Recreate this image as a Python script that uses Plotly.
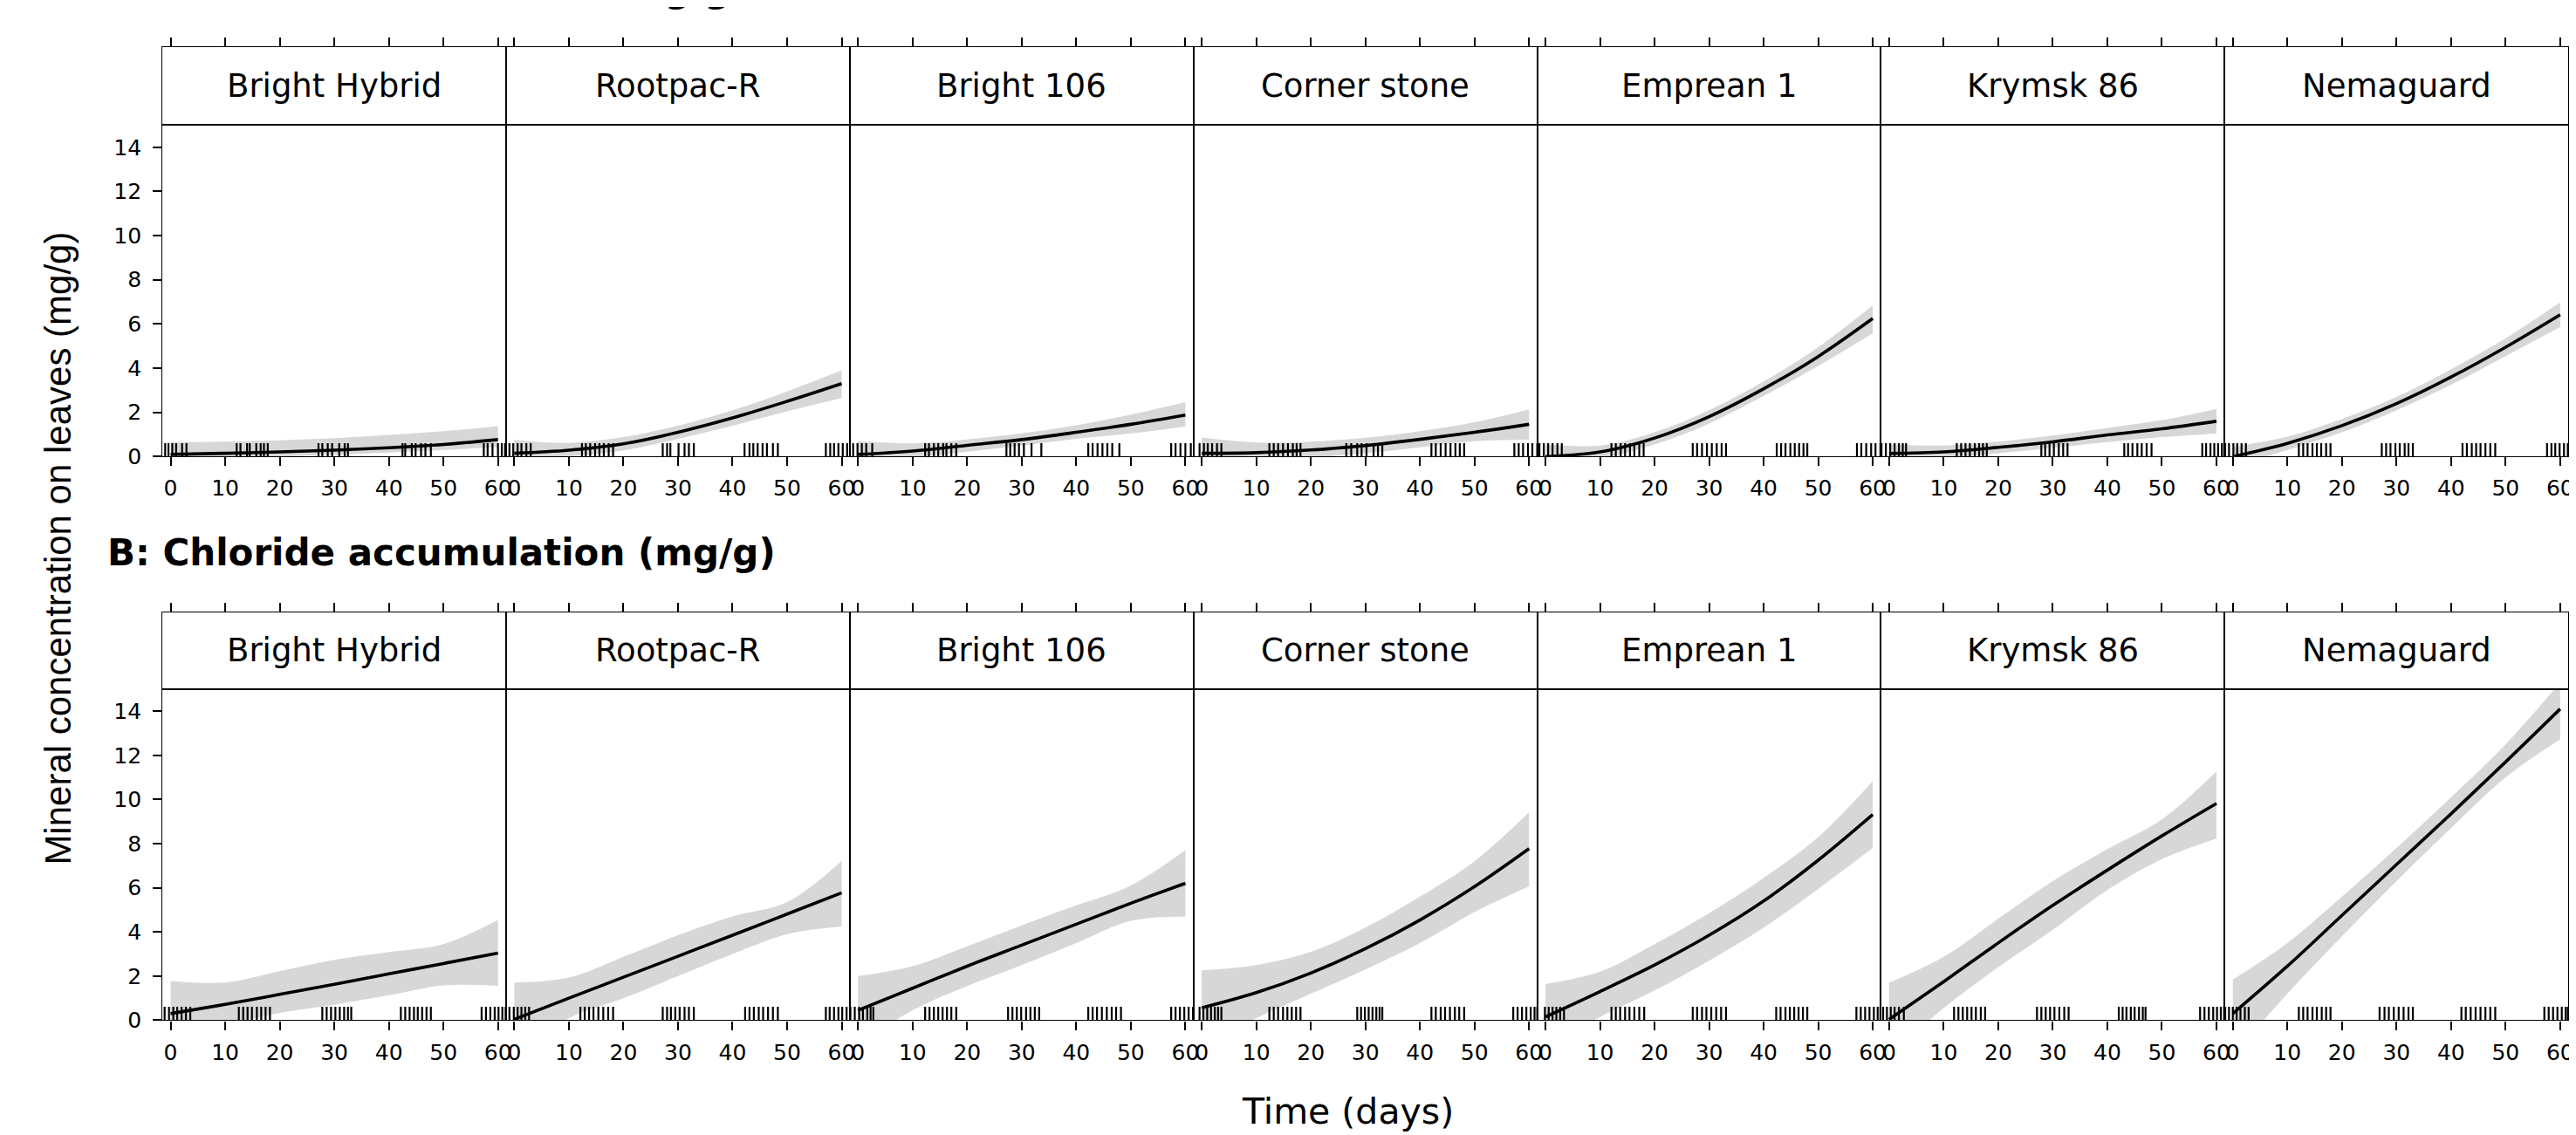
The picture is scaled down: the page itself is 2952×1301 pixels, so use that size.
import plotly.graph_objects as go

W, H = 2952, 1301

# ---------------- data ----------------
rootstocks = ["Bright Hybrid", "Rootpac-R", "Bright 106", "Corner stone",
              "Emprean 1", "Krymsk 86", "Nemaguard"]
section_titles = ["A: Sodium accumulation (mg/g)", "B: Chloride accumulation (mg/g)"]
x_title = "Time (days)"
y_title = "Mineral concentration on leaves (mg/g)"
x_ticks = [0, 10, 20, 30, 40, 50, 60]
y_ticks = [0, 2, 4, 6, 8, 10, 12, 14]
days = [0, 10, 20, 30, 40, 50, 60]

# Sodium (row A): fitted curve and confidence band per rootstock
na_fit = [
    [0.10, 0.15, 0.21, 0.29, 0.40, 0.55, 0.77],
    [0.15, 0.29, 0.58, 1.10, 1.75, 2.50, 3.30],
    [0.10, 0.25, 0.51, 0.77, 1.10, 1.46, 1.88],
    [0.15, 0.18, 0.30, 0.50, 0.78, 1.10, 1.46],
    [0.00, 0.21, 0.84, 1.81, 3.07, 4.53, 6.25],
    [0.14, 0.21, 0.42, 0.67, 0.98, 1.26, 1.60],
    [0.00, 0.60, 1.40, 2.40, 3.60, 4.95, 6.42],
]
na_lower = [
    [-0.20, -0.10, 0.00, 0.08, 0.18, 0.30, 0.43],
    [-0.30, 0.00, 0.28, 0.80, 1.40, 2.05, 2.65],
    [-0.30, -0.05, 0.22, 0.50, 0.80, 1.05, 1.36],
    [-0.50, -0.25, -0.05, 0.15, 0.42, 0.70, 0.77],
    [-0.50, -0.10, 0.55, 1.50, 2.75, 4.10, 5.58],
    [-0.30, -0.10, 0.15, 0.40, 0.66, 0.88, 1.04],
    [-0.45, 0.30, 1.10, 2.10, 3.25, 4.55, 5.86],
]
na_upper = [
    [0.66, 0.68, 0.74, 0.83, 0.98, 1.15, 1.38],
    [0.77, 0.62, 0.88, 1.40, 2.10, 2.95, 3.90],
    [0.71, 0.60, 0.78, 1.05, 1.42, 1.90, 2.46],
    [0.86, 0.64, 0.68, 0.85, 1.15, 1.55, 2.14],
    [0.56, 0.50, 1.10, 2.10, 3.40, 4.95, 6.84],
    [0.56, 0.50, 0.68, 0.95, 1.30, 1.65, 2.16],
    [0.45, 0.90, 1.70, 2.70, 3.95, 5.35, 6.98],
]

# Chloride (row B)
cl_fit = [
    [0.30, 0.72, 1.17, 1.63, 2.10, 2.57, 3.04],
    [0.04, 1.00, 1.95, 2.90, 3.85, 4.81, 5.77],
    [0.45, 1.45, 2.45, 3.40, 4.35, 5.30, 6.20],
    [0.56, 1.25, 2.14, 3.24, 4.54, 6.05, 7.77],
    [0.15, 1.30, 2.50, 3.85, 5.40, 7.25, 9.32],
    [0.04, 1.75, 3.50, 5.20, 6.80, 8.35, 9.82],
    [0.30, 2.45, 4.75, 7.05, 9.35, 11.70, 14.10],
]
cl_lower = [
    [-1.20, -0.27, 0.33, 0.70, 1.13, 1.58, 1.56],
    [-1.60, 0.10, 1.00, 2.00, 3.00, 3.90, 4.25],
    [-1.10, 0.45, 1.55, 2.50, 3.50, 4.50, 4.70],
    [-1.10, 0.10, 1.20, 2.30, 3.50, 4.90, 6.06],
    [-1.20, 0.15, 1.35, 2.70, 4.20, 5.95, 7.80],
    [-1.60, 0.55, 2.40, 4.10, 5.90, 7.30, 8.23],
    [-1.60, 1.20, 3.80, 6.30, 8.70, 11.00, 12.72],
]
cl_upper = [
    [1.78, 1.71, 2.22, 2.73, 3.09, 3.45, 4.54],
    [1.71, 1.93, 2.87, 3.85, 4.70, 5.35, 7.22],
    [2.00, 2.45, 3.35, 4.30, 5.20, 6.10, 7.70],
    [2.26, 2.50, 3.10, 4.20, 5.60, 7.20, 9.42],
    [1.64, 2.20, 3.45, 4.85, 6.45, 8.30, 10.84],
    [1.70, 2.87, 4.60, 6.30, 7.75, 9.10, 11.27],
    [1.85, 3.50, 5.60, 7.80, 10.10, 12.50, 15.30],
]

# Observation days (rug) per rootstock
na_rug = [
    [-1.0, -0.4, 0.3, 1.0, 2.1, 2.9, 12.1, 12.8, 14.0, 14.5, 15.7, 16.5, 17.1, 17.8,
     27.1, 27.8, 28.8, 29.6, 30.9, 31.9, 32.5, 42.5, 43.0, 44.2, 44.9, 45.9, 46.7, 47.7,
     57.4, 58.1, 59.0, 60.0, 60.7, 61.3],
    [-0.9, -0.2, 0.6, 1.3, 2.2, 3.0, 12.4, 13.1, 13.9, 14.8, 15.6, 16.4, 17.3, 18.1,
     27.2, 28.0, 28.6, 30.1, 31.2, 32.0, 32.9, 42.2, 43.1, 43.8, 44.6, 45.5, 46.3, 47.4, 48.3,
     57.1, 57.9, 58.6, 59.4, 60.2, 61.0],
    [-0.9, -0.1, 0.7, 1.5, 2.6, 12.3, 13.0, 13.9, 14.7, 15.6, 16.2, 17.1, 18.0,
     27.2, 27.9, 28.7, 29.5, 30.4, 31.8, 33.6, 42.2, 43.0, 43.9, 44.8, 45.7, 46.6, 47.9,
     57.4, 58.2, 59.1, 60.0, 61.0],
    [-0.4, 0.4, 1.1, 1.9, 2.8, 3.6, 12.4, 13.2, 14.0, 14.9, 15.8, 16.7, 17.4, 18.1,
     26.5, 27.4, 28.5, 29.3, 30.2, 31.5, 32.3, 33.1, 42.1, 42.9, 43.8, 44.7, 45.6, 46.5, 47.3, 48.1,
     57.3, 58.1, 58.9, 59.8, 60.6, 61.5],
    [-1.1, -0.3, 0.5, 1.3, 2.2, 3.0, 12.1, 12.9, 13.8, 14.6, 15.5, 16.3, 17.2, 18.0,
     27.0, 27.8, 28.7, 29.6, 30.5, 31.4, 32.3, 33.1, 42.4, 43.2, 44.0, 44.9, 45.7, 46.5, 47.3, 48.0,
     57.1, 57.9, 58.8, 59.7, 60.5, 61.4],
    [-1.4, -0.6, 0.2, 1.0, 1.8, 2.5, 3.1, 12.4, 13.2, 14.0, 14.8, 15.7, 16.5, 17.2, 17.9,
     27.9, 28.6, 29.4, 30.2, 31.1, 31.9, 32.7, 43.1, 43.8, 44.6, 45.5, 46.3, 47.2, 48.1,
     57.4, 58.1, 58.9, 59.6, 60.3, 61.0],
    [-1.4, -0.7, 0.1, 0.8, 1.6, 2.4, 12.1, 12.9, 13.7, 14.6, 15.4, 16.2, 17.1, 17.9,
     27.3, 28.1, 28.9, 29.8, 30.6, 31.5, 32.2, 33.0, 42.1, 42.9, 43.8, 44.6, 45.4, 46.3, 47.2, 48.1,
     57.6, 58.4, 59.1, 59.9, 60.7, 61.4],
]
cl_rug = [
    [-1.1, -0.3, 0.5, 1.2, 2.0, 2.8, 3.6, 12.5, 13.3, 14.1, 14.9, 15.8, 16.6, 17.4, 18.2,
     27.8, 28.6, 29.4, 30.2, 31.0, 31.8, 32.5, 33.1, 42.2, 43.0, 43.8, 44.6, 45.3, 46.1, 46.9, 47.7,
     57.0, 57.8, 58.6, 59.4, 60.1, 60.8, 61.4],
    [-0.9, -0.1, 0.6, 1.3, 2.0, 2.7, 12.1, 12.9, 13.7, 14.5, 15.4, 16.3, 17.2, 18.1,
     27.2, 28.0, 28.7, 29.5, 30.3, 31.2, 32.0, 32.9, 42.3, 43.1, 43.9, 44.8, 45.6, 46.5, 47.4, 48.3,
     57.1, 57.8, 58.6, 59.4, 60.1, 60.9],
    [-1.4, -0.6, 0.2, 0.9, 1.7, 2.3, 2.8, 12.3, 13.1, 13.9, 14.7, 15.5, 16.3, 17.1, 18.0,
     27.5, 28.3, 29.1, 29.9, 30.8, 31.6, 32.4, 33.2, 42.2, 43.0, 43.8, 44.7, 45.6, 46.5, 47.3, 48.2,
     57.4, 58.2, 59.0, 59.8, 60.6, 61.4],
    [-0.4, 0.3, 1.0, 1.7, 2.4, 3.0, 3.6, 12.4, 13.2, 14.0, 14.9, 15.7, 16.5, 17.3, 18.1,
     28.5, 29.2, 29.9, 30.6, 31.3, 32.0, 32.6, 33.1, 42.1, 42.9, 43.8, 44.6, 45.5, 46.4, 47.2, 48.1,
     57.1, 57.9, 58.7, 59.5, 60.3, 61.0, 61.5],
    [-0.1, 0.6, 1.3, 2.0, 2.7, 3.4, 12.1, 12.9, 13.7, 14.6, 15.4, 16.3, 17.2, 18.1,
     27.0, 27.8, 28.7, 29.5, 30.4, 31.3, 32.2, 33.1, 42.3, 43.1, 44.0, 44.8, 45.6, 46.4, 47.2, 48.0,
     57.0, 57.8, 58.6, 59.4, 60.2, 60.9, 61.4],
    [-1.1, -0.4, 0.3, 1.0, 1.8, 2.7, 11.9, 12.7, 13.5, 14.3, 15.1, 15.9, 16.8, 17.6,
     27.1, 27.9, 28.7, 29.5, 30.3, 31.2, 32.1, 32.9, 42.1, 42.8, 43.5, 44.3, 45.0, 45.8, 46.5, 47.0,
     57.0, 57.8, 58.6, 59.4, 60.1, 60.8, 61.4],
    [-1.4, -0.7, 0.0, 0.7, 1.4, 2.2, 2.9, 12.1, 12.9, 13.7, 14.6, 15.4, 16.3, 17.1, 17.9,
     26.9, 27.8, 28.6, 29.5, 30.4, 31.3, 32.2, 33.0, 41.9, 42.7, 43.6, 44.5, 45.4, 46.3, 47.2, 48.1,
     57.1, 57.9, 58.7, 59.5, 60.3, 61.0, 61.4],
]

# ---------------- layout geometry (pixels) ----------------
PX_LEFT = 178.6
PW = 394.8
ROWS = [dict(strip=(47, 137), panel=(137, 521.4)),
        dict(strip=(702, 791), panel=(791, 1175))]
XRANGE = [-1.5, 61.5]
YRANGE = [0, 15]
BAND = "#d7d7d7"
LW = 1.1
TICKFONT = dict(family="DejaVu Sans", size=25, color="black")


def fx(p):
    return p / W


def fy(p):
    return 1 - p / H


fig = go.Figure()
layout = {}
datasets = [(na_fit, na_lower, na_upper, na_rug), (cl_fit, cl_lower, cl_upper, cl_rug)]

annotations = []
for r, (fits, lows, ups, rugs) in enumerate(datasets):
    for c in range(7):
        i = r * 7 + c + 1
        j = 14 + i
        xa, ya = f"x{i}", f"y{i}"
        sxa, sya = f"x{j}", f"y{j}"
        x0 = fx(PX_LEFT + c * PW)
        x1 = fx(PX_LEFT + (c + 1) * PW)
        ptop, pbot = ROWS[r]["panel"]
        stop, sbot = ROWS[r]["strip"]

        fig.add_trace(go.Scatter(x=days, y=lows[c], mode="lines",
                                 line=dict(width=0, shape="spline", color=BAND),
                                 xaxis=xa, yaxis=ya, showlegend=False, hoverinfo="skip"))
        fig.add_trace(go.Scatter(x=days, y=ups[c], mode="lines", fill="tonexty",
                                 fillcolor=BAND,
                                 line=dict(width=0, shape="spline", color=BAND),
                                 xaxis=xa, yaxis=ya, showlegend=False, hoverinfo="skip"))
        fig.add_trace(go.Scatter(x=rugs[c], y=[0] * len(rugs[c]), mode="markers",
                                 marker=dict(symbol="line-ns", size=22, color="black",
                                             line=dict(color="black", width=2.2)),
                                 xaxis=xa, yaxis=ya, showlegend=False, hoverinfo="skip"))
        fig.add_trace(go.Scatter(x=days, y=fits[c], mode="lines",
                                 line=dict(width=3.6, shape="spline", color="black"),
                                 xaxis=xa, yaxis=ya, showlegend=False, hoverinfo="skip"))
        # strip subplot (empty)
        fig.add_trace(go.Scatter(x=[], y=[], xaxis=sxa, yaxis=sya, showlegend=False,
                                 hoverinfo="skip"))

        key_x = "xaxis" if i == 1 else f"xaxis{i}"
        key_y = "yaxis" if i == 1 else f"yaxis{i}"
        layout[key_x] = dict(
            domain=[x0, x1], anchor=ya, range=XRANGE, tickmode="array",
            tickvals=x_ticks, ticktext=[str(t) for t in x_ticks], tickangle=0,
            ticks="outside", ticklen=10, tickwidth=1.5, tickcolor="black",
            showline=True, linecolor="black", linewidth=LW, mirror=True,
            showgrid=False, zeroline=False, tickfont=TICKFONT, ticklabelstandoff=4,
            fixedrange=True)
        ydict = dict(
            domain=[fy(pbot), fy(ptop)], anchor=xa, range=YRANGE, tickmode="array",
            tickvals=y_ticks, ticktext=[str(t) for t in y_ticks],
            showline=True, linecolor="black", linewidth=LW, mirror=True,
            showgrid=False, zeroline=False, tickfont=TICKFONT, fixedrange=True,
            tickwidth=1.5, tickcolor="black", ticklen=10)
        if c == 0:
            ydict.update(ticks="outside", showticklabels=True, ticklabelstandoff=8)
        elif c == 6:
            ydict.update(ticks="outside", showticklabels=False, side="right")
        else:
            ydict.update(ticks="", showticklabels=False)
        layout[key_y] = ydict

        layout[f"xaxis{j}"] = dict(
            domain=[x0, x1], anchor=sya, range=XRANGE, side="top",
            tickmode="array", tickvals=x_ticks, showticklabels=False,
            ticks="outside", ticklen=10, tickwidth=1.5, tickcolor="black",
            showline=True, linecolor="black", linewidth=LW, mirror=True,
            showgrid=False, zeroline=False, fixedrange=True)
        layout[f"yaxis{j}"] = dict(
            domain=[fy(sbot), fy(stop)], anchor=sxa, range=[0, 1],
            showticklabels=False, ticks="", showline=True, linecolor="black",
            linewidth=LW, mirror=True, showgrid=False, zeroline=False, fixedrange=True)

        annotations.append(dict(
            text=rootstocks[c], xref="paper", yref="paper",
            x=(x0 + x1) / 2, y=fy((stop + sbot) / 2), xanchor="center", yanchor="middle",
            showarrow=False, font=dict(family="DejaVu Sans", size=37, color="black")))

# section titles (the first one is cut by the top edge, as in the original)
annotations.append(dict(text=f"<b>{section_titles[0]}</b>", xref="paper", yref="paper",
                        x=fx(100), y=fy(-21), xanchor="left", yanchor="middle",
                        showarrow=False,
                        font=dict(family="DejaVu Sans", size=42, color="black")))
annotations.append(dict(text=f"<b>{section_titles[1]}</b>", xref="paper", yref="paper",
                        x=fx(113), y=fy(633), xanchor="left", yanchor="middle",
                        showarrow=False,
                        font=dict(family="DejaVu Sans", size=42, color="black")))
# axis titles
annotations.append(dict(text=x_title, xref="paper", yref="paper",
                        x=fx(1540), y=fy(1281), xanchor="center", yanchor="middle",
                        showarrow=False,
                        font=dict(family="DejaVu Sans", size=41, color="black")))
annotations.append(dict(text=y_title, xref="paper", yref="paper",
                        x=fx(59), y=fy(628), xanchor="center", yanchor="middle",
                        textangle=-90, showarrow=False,
                        font=dict(family="Liberation Sans", size=42, color="black")))

fig.update_layout(**layout)
fig.update_layout(
    width=W, height=H, autosize=False,
    margin=dict(l=0, r=0, t=0, b=0),
    paper_bgcolor="white", plot_bgcolor="white",
    showlegend=False, hovermode=False,
    annotations=annotations,
)

fig.write_html("out.html")
